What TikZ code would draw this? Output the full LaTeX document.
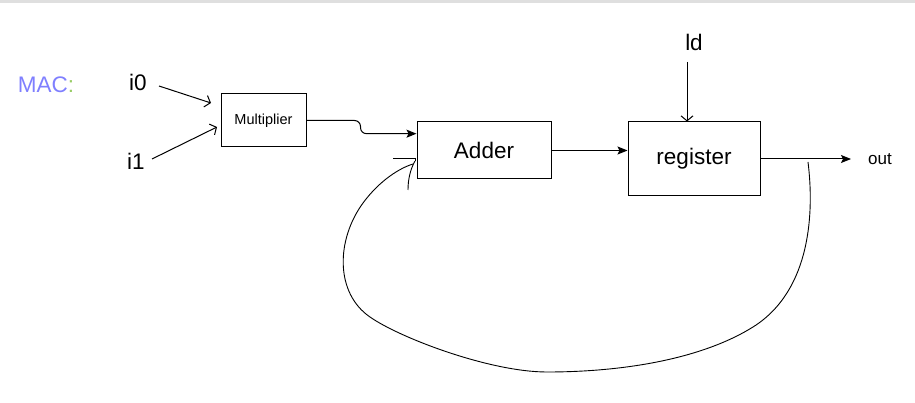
\documentclass[tikz,border=0pt]{standalone}
\usepackage{fontspec}
\setmainfont{Liberation Sans}
\usetikzlibrary{arrows.meta,calc}
\definecolor{macblue}{HTML}{7F7FFF}
\definecolor{macgreen}{HTML}{99CC66}
\begin{document}
\begin{tikzpicture}[x=1pt,y=-1pt,
  blk/.style={draw,line width=1pt,inner sep=0pt},
  lbl/.style={inner sep=0pt,font=\fontsize{22.5}{26}\selectfont},
  filled/.style={line width=1pt,-{Stealth[length=10pt,width=8pt,inset=2pt]}},
  openarr/.style={line width=1pt,-{Straight Barb[length=5pt,width=12pt]}},
  thin/.style={line width=0.9pt}]
\useasboundingbox (0,0) rectangle (915,403);
\draw[gray!25,line width=2.5pt] (0,1.5) -- (915,1.5);

\node[lbl,anchor=center] (mac) at (46,85) {\textcolor{macblue}{MAC}\textcolor{macgreen}{:}};
\node[lbl] (i0) at (138,82) {i0};
\node[lbl] (i1) at (136,161) {i1};
\node[lbl] (ld) at (694,42) {ld};
\node[inner sep=0pt,font=\fontsize{17}{20}\selectfont] (out) at (880,159) {out};

\node[blk,minimum width=85pt,minimum height=53pt,font=\fontsize{14.5}{17}\selectfont] (mult) at (263.5,120.5) {Multiplier};
\node[blk,minimum width=134pt,minimum height=57pt,font=\fontsize{22.5}{26}\selectfont] (adder) at (484,150.5) {Adder};
\node[blk,minimum width=132pt,minimum height=74pt,font=\fontsize{22.5}{26}\selectfont] (reg) at (694,159) {register};

\coordinate (i0s) at (159,86);
\coordinate (i0e) at (211,103);
\coordinate (i1s) at (152,159);
\coordinate (i1e) at (217,127);
\draw[openarr] (i0s) -- (i0e);
\draw[openarr] (i1s) -- (i1e);

\draw[filled,rounded corners=6pt] (mult.east) -- ++(54,0) |- ($(adder.north west)!0.21!(adder.south west)$);
\draw[filled] (adder.east) -- (adder.east -| reg.west);

\coordinate (lds) at (687,62);
\draw[openarr] (lds) -- (lds |- reg.north);

\coordinate (outtip) at (851,159);
\draw[filled] (reg.east |- outtip) -- (outtip);

\coordinate (fbs) at (808,162);
\coordinate (fbt) at (413,164);
\draw[thin] (fbs) .. controls (814,210) and (812,290) .. (753,327)
  .. controls (700,360) and (620,372) .. (547,372)
  .. controls (490,372) and (400,338) .. (370,317)
  .. controls (335,293) and (336,240) .. (363,203)
  .. controls (380,180) and (400,168) .. (fbt);
\draw[thin] (393,158) -- (415,158) -- (415,161);
\draw[thin] (415,161) .. controls (410,170) and (408,180) .. (408,190);
\end{tikzpicture}
\end{document}
